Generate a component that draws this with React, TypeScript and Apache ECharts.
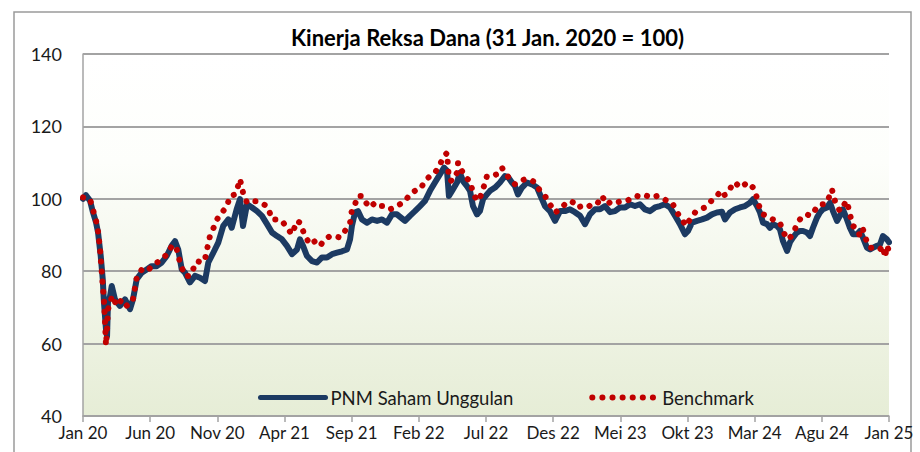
import React, { useEffect, useRef } from "react";
import * as echarts from "echarts";

const TITLE = "Kinerja Reksa Dana (31 Jan. 2020 = 100)";
const TICK_LABELS = ["Jan 20", "Jun 20", "Nov 20", "Apr 21", "Sep 21", "Feb 22", "Jul 22", "Des 22", "Mei 23", "Okt 23", "Mar 24", "Agu 24", "Jan 25"];
const SERIES_NAMES = ["PNM Saham Unggulan", "Benchmark"];

// x = months since 31 Jan 2020
const pnmMonths = [0, 0.22, 0.52, 0.74, 0.97, 1.12, 1.32, 1.47, 1.56, 1.71, 1.79, 1.86, 2.01, 2.14, 2.38, 2.75, 3.13, 3.5, 3.72, 4.0, 4.37, 4.74, 5.11, 5.49, 5.86, 6.23, 6.6, 6.85, 7.09, 7.35, 7.59, 7.96, 8.34, 8.71, 9.08, 9.33, 9.7, 10.07, 10.44, 10.82, 11.07, 11.44, 11.69, 11.91, 12.21, 12.58, 12.95, 13.32, 13.7, 14.07, 14.44, 14.81, 15.18, 15.56, 15.93, 16.15, 16.38, 16.67, 17.05, 17.42, 17.79, 18.16, 18.54, 18.91, 19.28, 19.65, 19.88, 20.02, 20.25, 20.47, 20.77, 21.14, 21.51, 21.89, 22.26, 22.63, 23.0, 23.37, 23.6, 23.97, 24.34, 24.71, 25.09, 25.46, 25.83, 26.2, 26.58, 26.87, 27.1, 27.24, 27.47, 27.84, 28.06, 28.29, 28.58, 28.81, 29.03, 29.33, 29.55, 29.78, 30.07, 30.3, 30.67, 31.04, 31.41, 31.64, 31.93, 32.16, 32.38, 32.68, 33.05, 33.42, 33.8, 34.02, 34.39, 34.76, 35.14, 35.51, 35.88, 36.25, 36.62, 37.0, 37.37, 37.74, 38.11, 38.49, 38.86, 39.23, 39.6, 39.97, 40.35, 40.72, 41.09, 41.46, 41.83, 42.21, 42.58, 42.95, 43.32, 43.7, 44.07, 44.44, 44.81, 45.04, 45.33, 45.71, 46.08, 46.45, 46.82, 47.19, 47.57, 47.79, 48.16, 48.54, 48.91, 49.28, 49.65, 49.88, 50.17, 50.4, 50.62, 50.92, 51.14, 51.36, 51.66, 51.88, 52.11, 52.41, 52.63, 52.85, 53.15, 53.37, 53.6, 53.89, 54.12, 54.34, 54.64, 54.86, 55.08, 55.38, 55.61, 55.83, 56.13, 56.35, 56.57, 56.87, 57.09, 57.32, 57.62, 57.84, 58.06, 58.36, 58.59, 58.81, 59.11, 59.33, 59.55, 59.85, 60.0];
const pnmValues = [100, 101, 99.5, 96.3, 93.5, 90.7, 84.2, 77.8, 71.4, 64, 62, 71.4, 73, 75.9, 72.2, 70.4, 72.2, 69.5, 72.2, 77.8, 79.6, 80.5, 81.4, 81.4, 82.4, 84.2, 87, 88.3, 86, 80.5, 79.6, 76.9, 78.7, 78.2, 77.3, 82.4, 85.1, 87.9, 92.5, 94.3, 92, 97.1, 99.9, 92.5, 98.5, 97.6, 96.6, 95.3, 93, 90.7, 89.7, 88.8, 87, 84.7, 86, 88.8, 87, 84.2, 82.8, 82.4, 83.8, 83.8, 84.7, 85.1, 85.5, 86, 88.8, 92.5, 96.2, 96.6, 94.3, 93.4, 94.3, 93.9, 94.3, 93.4, 95.7, 95.7, 95, 93.9, 95.3, 96.6, 98, 99.4, 102.2, 104.5, 106.8, 108.6, 107.7, 100.8, 102.2, 104.5, 107.2, 104.9, 103.5, 102.2, 98, 95.7, 96.6, 99.9, 101.2, 102.2, 103.1, 104.5, 106.3, 106, 104.5, 103.5, 101.2, 103.1, 104.5, 104, 103.1, 101.2, 98, 96.6, 93.9, 96.6, 96.6, 97.1, 96.3, 95.3, 93, 95.7, 97.1, 97.1, 98, 96.3, 96.6, 97.6, 97.6, 98.5, 98, 98.5, 97.1, 96.6, 97.6, 98, 98.5, 97.6, 95.3, 93, 90.2, 91.1, 93.4, 93.9, 94.3, 94.8, 95.7, 96.2, 96.4, 94.3, 96.2, 97.1, 97.6, 98, 98.9, 99.9, 98, 96.2, 93.4, 93, 92, 93, 92.5, 91.6, 88.3, 85.6, 88, 89.3, 90.7, 91.1, 91.1, 90.7, 89.7, 92, 94.8, 96.2, 97.1, 97.6, 98.9, 96.6, 93.9, 95.3, 97.1, 94.3, 92, 90.2, 90.2, 91.1, 89.3, 86.5, 86, 86.5, 87, 87.4, 89.7, 88.8, 88];

const benchMonths = [0, 0.3, 0.52, 0.74, 0.97, 1.12, 1.27, 1.41, 1.56, 1.64, 1.71, 1.79, 1.86, 2.01, 2.16, 2.53, 2.9, 3.28, 3.72, 4.02, 4.39, 4.76, 5.14, 5.51, 5.88, 6.25, 6.62, 6.92, 7.22, 7.59, 7.96, 8.19, 8.49, 8.86, 9.08, 9.23, 9.45, 9.68, 9.97, 10.35, 10.72, 10.94, 11.31, 11.54, 11.69, 11.91, 12.21, 12.58, 12.95, 13.32, 13.77, 14.07, 14.44, 14.81, 15.18, 15.56, 15.93, 16.15, 16.53, 16.9, 17.27, 17.64, 18.01, 18.39, 18.76, 19.13, 19.5, 19.88, 20.02, 20.25, 20.47, 20.77, 21.07, 21.36, 21.74, 22.11, 22.48, 22.85, 23.23, 23.6, 23.97, 24.34, 24.71, 25.09, 25.46, 25.83, 26.2, 26.58, 26.8, 27.1, 27.24, 27.47, 27.84, 27.92, 28.21, 28.44, 28.81, 29.03, 29.33, 29.55, 29.85, 30.07, 30.45, 30.82, 31.19, 31.41, 31.79, 32.16, 32.53, 32.9, 33.27, 33.65, 34.02, 34.39, 34.76, 35.14, 35.51, 35.88, 36.25, 36.48, 36.77, 37.15, 37.52, 37.89, 38.26, 38.63, 39.01, 39.38, 39.75, 40.12, 40.5, 40.87, 41.24, 41.61, 41.98, 42.36, 42.73, 43.1, 43.47, 43.85, 44.22, 44.59, 44.89, 45.18, 45.56, 45.93, 46.3, 46.67, 46.9, 47.19, 47.49, 47.72, 47.94, 48.16, 48.39, 48.68, 48.91, 49.13, 49.43, 49.65, 49.88, 50.03, 50.17, 50.4, 50.62, 50.92, 51.14, 51.36, 51.66, 51.88, 52.11, 52.41, 52.63, 52.85, 53.15, 53.37, 53.6, 53.89, 54.12, 54.34, 54.64, 54.86, 55.08, 55.38, 55.61, 55.75, 55.98, 56.2, 56.35, 56.57, 56.87, 57.09, 57.32, 57.62, 57.84, 58.06, 58.36, 58.59, 58.81, 59.11, 59.33, 59.55, 59.7, 59.85, 60.0];
const benchValues = [100.4, 100.2, 99.9, 97, 94, 91, 86, 79, 72, 66, 59.5, 64, 69.5, 71, 73.2, 70.4, 72.2, 70.4, 72.2, 78.7, 80.5, 80, 81.4, 82.4, 83.3, 84.7, 87, 87, 82.4, 78.7, 78.7, 80.5, 82.8, 82.4, 83.3, 86, 89.7, 91.6, 94.3, 96.2, 98, 100.8, 101.2, 103.5, 105.4, 101.8, 98.9, 99.3, 99.3, 98.9, 97.6, 94.3, 94.3, 93.9, 92, 90.2, 93.9, 93.4, 89.7, 87.4, 88.3, 87, 88.8, 89.7, 89.7, 89.3, 91.1, 93.4, 97.1, 98.5, 100.8, 100.8, 98.9, 97.6, 98.9, 98, 98, 97.1, 97.6, 98.5, 99.4, 101.2, 102.2, 102.6, 104.9, 106.3, 107.2, 109.5, 111.4, 112.7, 105.4, 104.9, 107.2, 110, 107.7, 106, 104.9, 101.7, 99.4, 100.3, 103.5, 106.3, 106.3, 106.8, 108.6, 107.2, 105.4, 104, 104.9, 105.4, 105.4, 104.5, 102.2, 100.8, 98.5, 96.2, 97.1, 98.5, 99.4, 99, 97.6, 98, 97.6, 98.5, 98.5, 100.8, 98.5, 99.4, 99, 99.4, 99.4, 100.3, 100.8, 100.3, 100.8, 100.3, 100.8, 100.3, 99.4, 99, 96.2, 94.3, 92.5, 94.3, 96.2, 97.1, 97.6, 99, 99.9, 100.8, 102.2, 101, 101.3, 102.6, 104.5, 104, 103.1, 103.5, 104.5, 104, 103.1, 101.7, 100.3, 97.1, 95.7, 95.3, 94.8, 94.3, 93.9, 93.4, 91.1, 88.8, 89.3, 90.2, 93, 94.3, 95.3, 95.7, 95.3, 96.2, 97.6, 98.5, 98.5, 98.9, 101.2, 102.6, 99.4, 97.6, 96.6, 98, 99.4, 95.7, 92.5, 91.6, 89.7, 91.6, 88, 86.5, 86.5, 86, 86, 87, 83.8, 87, 85.6];

const FONT = "Lato, 'Open Sans', sans-serif";
const GRID_GRAY = "#a3a3a3";
const NAVY = "#1c3a62";
const RED = "#c00000";
const BENCH_DASH = [0.1, 10];

export default function App() {
  const ref = useRef<HTMLDivElement>(null);
  useEffect(() => {
    if (!ref.current) return;
    const chart = echarts.init(ref.current, null, { renderer: "svg" });
    const pnmData = pnmMonths.map((m, i) => [m, pnmValues[i]]);
    const benchData = benchMonths.map((m, i) => [m, benchValues[i]]);
    chart.setOption({
      animation: false,
      backgroundColor: "#ffffff",
      textStyle: { fontFamily: FONT },
      title: {
        text: TITLE,
        left: 286,
        top: 21,
        textStyle: { fontFamily: FONT, fontSize: 22, fontWeight: "bold", color: "#000000" },
      },
      graphic: [
        {
          type: "rect",
          shape: { x: 14, y: 12, width: 897, height: 470 },
          style: { fill: "none", stroke: "#9a9a9a", lineWidth: 1.5 },
          silent: true,
          z: -1,
        },
      ],
      legend: {
        data: [
          { name: SERIES_NAMES[0], lineStyle: { width: 5, color: NAVY, cap: "round" } },
          { name: SERIES_NAMES[1], lineStyle: { width: 6, color: RED, type: BENCH_DASH, cap: "round" } },
        ],
        left: 253,
        top: 383,
        itemWidth: 65,
        itemHeight: 14,
        itemGap: 76,
        itemStyle: { opacity: 0 },
        textStyle: { fontFamily: FONT, fontSize: 18.5, color: "#1a1a1a" },
      },
      grid: {
        left: 83,
        right: 31,
        top: 54,
        bottom: 36,
        show: true,
        borderWidth: 0,
        backgroundColor: {
          type: "linear",
          x: 0,
          y: 0,
          x2: 0,
          y2: 1,
          colorStops: [
            { offset: 0, color: "#ffffff" },
            { offset: 0.3, color: "#fdfefb" },
            { offset: 1, color: "#e6edd6" },
          ],
        },
      },
      xAxis: {
        type: "value",
        min: 0,
        max: 60,
        interval: 5,
        axisLine: { show: true, lineStyle: { color: GRID_GRAY, width: 1.5 } },
        axisTick: { show: true, length: 6, lineStyle: { color: GRID_GRAY, width: 1.5 } },
        splitLine: { show: false },
        axisLabel: {
          fontFamily: FONT,
          fontSize: 17,
          color: "#1a1a1a",
          margin: 8,
          formatter: (v: number) => TICK_LABELS[Math.round(v / 5)] ?? "",
        },
      },
      yAxis: {
        type: "value",
        min: 40,
        max: 140,
        interval: 20,
        axisLine: { show: true, lineStyle: { color: GRID_GRAY, width: 1.5 } },
        axisTick: { show: false },
        splitLine: { show: true, lineStyle: { color: GRID_GRAY, width: 2 } },
        axisLabel: { fontFamily: FONT, fontSize: 18, color: "#1a1a1a", margin: 21 },
      },
      series: [
        {
          name: SERIES_NAMES[0],
          type: "line",
          data: pnmData,
          symbol: "none",
          color: NAVY,
          lineStyle: { color: NAVY, width: 6, join: "round", cap: "round" },
          z: 2,
        },
        {
          name: SERIES_NAMES[1],
          type: "line",
          data: benchData,
          symbol: "none",
          color: RED,
          lineStyle: { color: RED, width: 6, type: BENCH_DASH, cap: "round", join: "round" },
          z: 3,
        },
      ],
    });
    return () => chart.dispose();
  }, []);
  return (
    <div
      ref={ref}
      style={{ position: "fixed", left: 0, top: 0, width: 920, height: 452 }}
    />
  );
}
